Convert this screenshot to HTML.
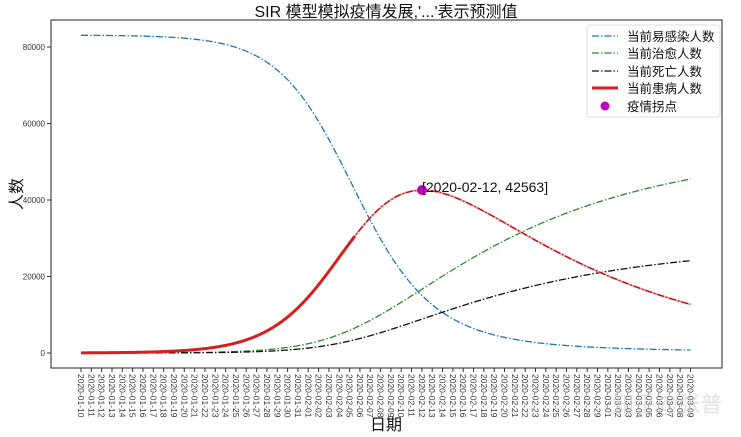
<!DOCTYPE html>
<html><head><meta charset="utf-8"><style>
html,body{margin:0;padding:0;background:#fff;}
svg{display:block;}
text{font-family:"Liberation Sans","Noto Sans CJK SC",sans-serif;}
</style></head><body>
<svg id="s" width="741" height="437" xmlns="http://www.w3.org/2000/svg">
<rect width="741" height="437" fill="#fff"/>
<text x="386" y="17" font-size="16" text-anchor="middle" fill="#111" font-family="'Liberation Mono','Noto Sans CJK SC',monospace">SIR 模型模拟疫情发展,'...'表示预测值</text>
<g id="curves"></g>
<rect x="51" y="20" width="671" height="348" fill="none" stroke="#222" stroke-width="1"/>
<g id="ticks" font-size="8" fill="#333"></g>
<text x="22" y="194" font-size="16" text-anchor="middle" transform="rotate(-90 22 194)" fill="#111">人数</text>
<text x="386" y="430" font-size="16" text-anchor="middle" fill="#111">日期</text>
<circle cx="422" cy="190" r="5" fill="#bf00bf"/>
<text x="422" y="192" font-size="14" fill="#111" font-family="'Liberation Sans','Noto Sans CJK SC',sans-serif">[2020-02-12, 42563]</text>
<g>
<rect x="587" y="25" width="133" height="92" rx="3" fill="#fff" fill-opacity="0.85" stroke="#ddd"/>
<line x1="592" y1="36" x2="618" y2="36" stroke="#1f77b4" stroke-width="1.3" stroke-dasharray="7,2,1.5,2"/>
<line x1="592" y1="53" x2="618" y2="53" stroke="#2a8a2a" stroke-width="1.3" stroke-dasharray="7,2,1.5,2"/>
<line x1="592" y1="71" x2="618" y2="71" stroke="#111" stroke-width="1.3" stroke-dasharray="7,2,1.5,2"/>
<line x1="592" y1="88" x2="618" y2="88" stroke="#d62020" stroke-width="3"/>
<circle cx="605" cy="106" r="4.5" fill="#bf00bf"/>
<g font-size="12.5" fill="#111">
<text x="627" y="41">当前易感染人数</text>
<text x="627" y="58">当前治愈人数</text>
<text x="627" y="76">当前死亡人数</text>
<text x="627" y="93">当前患病人数</text>
<text x="627" y="111">疫情拐点</text>
</g></g>
<text x="612" y="412" font-size="22" fill="#ccc" fill-opacity="0.6">知乎@张普</text>
</svg>
<script>
(function(){
var NS="http://www.w3.org/2000/svg";
function el(t,a,p){var e=document.createElementNS(NS,t);for(var k in a)e.setAttribute(k,a[k]);if(t==='text'&&a._t){e.textContent=a._t;e.removeAttribute('_t');}p.appendChild(e);return e;}
var X=function(i){return 81+i*10.33;}, Y=function(v){return 353-v*76.5/20000;};
var N=83100,b=0.345,g=0.0405,d=0.0215;
function sim(I0){var S=N-I0,I=I0,R=0,D=0,dt=0.01,out=[];for(var s=0;s<=59*100;s++){if(s%10==0)out.push([S,I,R,D]);var inf=b*S*I/N*dt;S-=inf;I+=inf-(g+d)*I*dt;R+=g*I*dt;D+=d*I*dt;}return out;}
function peak(o){var m=0,k=0;o.forEach(function(r,j){if(r[1]>m){m=r[1];k=j;}});return k/10;}
var lo=0.001,hi=5000,o;
for(var it=0;it<60;it++){var mid=Math.sqrt(lo*hi);o=sim(mid);if(peak(o)>33)lo=mid;else hi=mid;}
o=sim(Math.sqrt(lo*hi));
var mx=0;o.forEach(function(r){if(r[1]>mx)mx=r[1];});var sc=42563/mx;
function path(col,f,from,to){var s="";for(var j=from*10;j<=to*10;j++){var v=f(o[j]);s+=(s?"L":"M")+X(j/10).toFixed(2)+","+Y(v).toFixed(2);}return s;}
var c=document.getElementById('curves');
var dash="7,2,1.5,2";
el('path',{d:path(0,function(r){return r[0];},0,59),fill:'none',stroke:'#1f77b4','stroke-width':1.3,'stroke-dasharray':dash},c);
el('path',{d:path(0,function(r){return r[2];},0,59),fill:'none',stroke:'#2a8a2a','stroke-width':1.3,'stroke-dasharray':dash},c);
el('path',{d:path(0,function(r){return r[3];},0,59),fill:'none',stroke:'#111','stroke-width':1.3,'stroke-dasharray':dash},c);
el('path',{d:path(0,function(r){return r[1]*sc;},0,59),fill:'none',stroke:'#f3a0a0','stroke-width':2},c);
el('path',{d:path(0,function(r){return r[1]*sc;},0,59),fill:'none',stroke:'#b01010','stroke-width':1.3,'stroke-dasharray':dash},c);
el('path',{d:path(0,function(r){return r[1]*sc;},0,26.5),fill:'none',stroke:'#d62020','stroke-width':3},c);
var t=document.getElementById('ticks');
[0,20000,40000,60000,80000].forEach(function(v){var y=Y(v);el('line',{x1:47,y1:y,x2:51,y2:y,stroke:'#333'},t);el('text',{x:45,y:y+3,'text-anchor':'end',_t:String(v)},t);});
var dt=new Date(Date.UTC(2020,0,10));
for(var i=0;i<60;i++){var x=X(i);var dd=new Date(dt.getTime()+i*86400000);
var s=dd.getUTCFullYear()+"-"+("0"+(dd.getUTCMonth()+1)).slice(-2)+"-"+("0"+dd.getUTCDate()).slice(-2);
el('line',{x1:x,y1:368,x2:x,y2:372,stroke:'#333'},t);
el('text',{x:x-3,y:374,transform:'rotate(90 '+(x-3)+' 374)','font-size':'8.5',_t:s},t);}
})();
</script>
</body></html>
